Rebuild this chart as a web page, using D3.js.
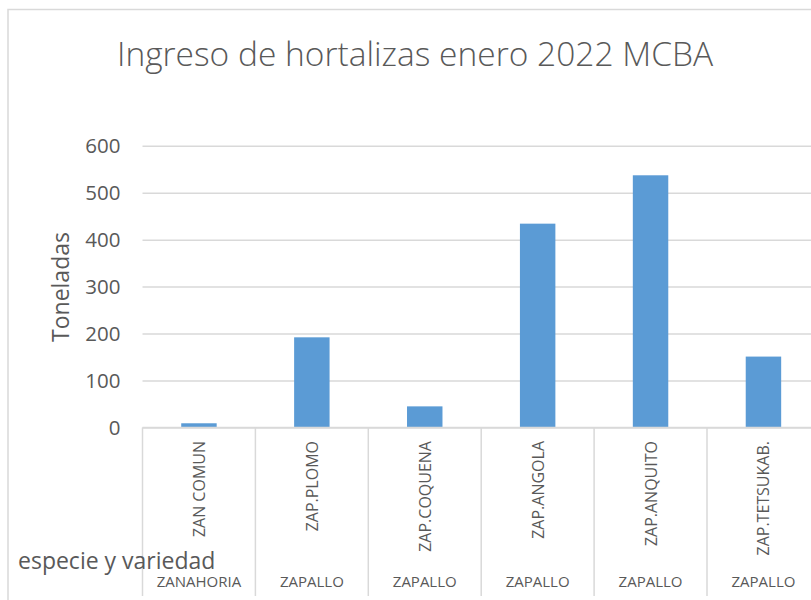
<!DOCTYPE html>
<html>
<head>
<meta charset="utf-8">
<script src="https://cdn.jsdelivr.net/npm/d3@7"></script>
<style>
  html, body { margin: 0; padding: 0; background: #fff; }
  svg { display: block; font-family: "Open Sans", sans-serif; }
</style>
</head>
<body>
<div id="chart"></div>
<script>
const variedades = ['ZAN COMUN', 'ZAP.PLOMO', 'ZAP.COQUENA', 'ZAP.ANGOLA', 'ZAP.ANQUITO', 'ZAP.TETSUKAB.'];
const especies = ['ZANAHORIA', 'ZAPALLO', 'ZAPALLO', 'ZAPALLO', 'ZAPALLO', 'ZAPALLO'];
const toneladas = [9, 192, 45, 434, 537, 151];
const yTicks = [0, 100, 200, 300, 400, 500, 600];

const width = 811, height = 600;
const textColor = '#595959';
const lineColor = '#d9d9d9';

const svg = d3.select('#chart').append('svg')
  .attr('width', width).attr('height', height);

// chart frame (cut off at right and bottom)
svg.append('rect')
  .attr('x', 8).attr('y', 9.5)
  .attr('width', 900).attr('height', 700)
  .attr('fill', 'none')
  .attr('stroke', lineColor).attr('stroke-width', 1.5);

const x = d3.scaleBand()
  .domain(variedades)
  .range([142.5, 142.5 + 6 * 112.9]);

const y = d3.scaleLinear()
  .domain([0, 600])
  .range([427.5, 145.7]);

const barW = x.bandwidth() * 0.314;

// gridlines + y labels
const yAxis = g => g
  .attr('transform', `translate(142.5,0)`)
  .call(d3.axisLeft(y).tickValues(yTicks).tickSize(-(width - 142.5)).tickPadding(22))
  .call(g => g.select('.domain').remove())
  .call(g => g.selectAll('.tick line').attr('stroke', lineColor).attr('stroke-width', 1.5))
  .call(g => g.selectAll('.tick text')
    .attr('fill', textColor)
    .attr('font-size', 20.5)
    .attr('font-family', '"Open Sans", sans-serif'));

svg.append('g').call(yAxis);

// bars
svg.append('g')
  .selectAll('rect')
  .data(toneladas)
  .join('rect')
  .attr('x', (d, i) => x(variedades[i]) + (x.bandwidth() - barW) / 2)
  .attr('y', d => y(d))
  .attr('width', barW)
  .attr('height', d => y(0) - y(d))
  .attr('fill', '#5b9bd5');

// category axis line and separators
svg.append('line')
  .attr('x1', 142.5).attr('x2', width)
  .attr('y1', y(0)).attr('y2', y(0))
  .attr('stroke', lineColor).attr('stroke-width', 1.5);

svg.append('g')
  .selectAll('line')
  .data(variedades.concat(['end']))
  .join('line')
  .attr('x1', (d, i) => x.range()[0] + i * x.step())
  .attr('x2', (d, i) => x.range()[0] + i * x.step())
  .attr('y1', y(0))
  .attr('y2', 596)
  .attr('stroke', lineColor).attr('stroke-width', 1.5);

// inner labels (rotated)
svg.append('g')
  .selectAll('text')
  .data(variedades)
  .join('text')
  .attr('transform', d => `translate(${x(d) + x.bandwidth() / 2},441) rotate(-90)`)
  .attr('text-anchor', 'end')
  .attr('dominant-baseline', 'central')
  .attr('fill', textColor)
  .attr('font-size', 16)
  .text(d => d);

// outer labels
svg.append('g')
  .selectAll('text')
  .data(especies)
  .join('text')
  .attr('x', (d, i) => x(variedades[i]) + x.bandwidth() / 2)
  .attr('y', 587)
  .attr('text-anchor', 'middle')
  .attr('fill', textColor)
  .attr('font-size', 15)
  .text(d => d);

// title
svg.append('text')
  .attr('x', 415).attr('y', 65.5)
  .attr('text-anchor', 'middle')
  .attr('fill', textColor)
  .attr('font-size', 33.5)
  .attr('font-weight', 300)
  .text('Ingreso de hortalizas enero 2022 MCBA');

// axis titles
svg.append('text')
  .attr('transform', 'translate(69,287) rotate(-90)')
  .attr('text-anchor', 'middle')
  .attr('fill', textColor)
  .attr('font-size', 23)
  .text('Toneladas');

svg.append('text')
  .attr('x', 18).attr('y', 569)
  .attr('fill', textColor)
  .attr('font-size', 23)
  .text('especie y variedad');
</script>
</body>
</html>
